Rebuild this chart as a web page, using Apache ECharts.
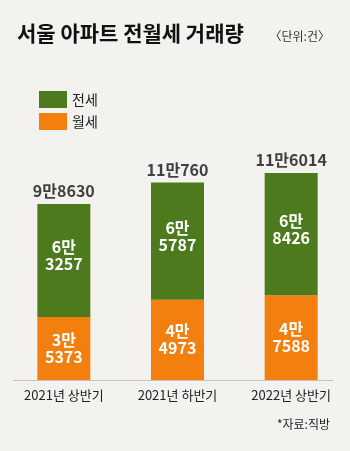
<!DOCTYPE html>
<html>
<head>
<meta charset="utf-8">
<script src="https://cdn.jsdelivr.net/npm/echarts@6/dist/echarts.min.js"></script>
<style>
html,body{margin:0;padding:0;background:#f3f2ee;}
#c{width:350px;height:451px;}
</style>
</head>
<body>
<div id="c"></div>
<script>
const categories = ['2021년 상반기', '2021년 하반기', '2022년 상반기'];
const jeonse = [63257, 65787, 68426];
const wolse = [35373, 44973, 47588];
const totals = [98630, 110760, 116014];
const seriesNames = ['전세', '월세'];

const KR = "'Noto Sans CJK KR', sans-serif";
const NUM = "'Liberation Sans Narrow', 'Noto Sans CJK KR', sans-serif";
function fmt(v, sep) {
  const man = Math.floor(v / 10000);
  const rest = v % 10000;
  return man + '만' + sep + rest;
}

const chart = echarts.init(document.getElementById('c'), null, {renderer: 'canvas'});
chart.setOption({
  backgroundColor: '#f3f2ee',
  animation: false,
  title: [
    {text: '서울 아파트 전월세 거래량', left: 12, top: 18,
     textStyle: {fontFamily: KR, fontSize: 21, fontWeight: 'bold', color: '#111'}},
    {text: '〈단위:건〉', right: 15, top: 25,
     textStyle: {fontFamily: KR, fontSize: 12, fontWeight: 'normal', color: '#333'}},
    {text: '*자료:직방', right: 15, top: 413,
     textStyle: {fontFamily: KR, fontSize: 12, fontWeight: 'normal', color: '#222'}}
  ],
  legend: {
    data: seriesNames,
    orient: 'vertical',
    left: 34, top: 86,
    itemWidth: 28, itemHeight: 17, itemGap: 5,
    icon: 'rect',
    textStyle: {fontFamily: KR, fontSize: 14, color: '#222'}
  },
  grid: {left: 7, right: 2, top: 166, bottom: 71},
  xAxis: {
    type: 'category', data: categories,
    axisLine: {show: false}, axisTick: {show: false},
    axisLabel: {margin: 9, fontFamily: KR, fontSize: 13, color: '#222'}
  },
  yAxis: {type: 'value', min: 0, max: 120000, show: false, splitLine: {show: false}},
  graphic: [{
    type: 'line', shape: {x1: 13, y1: 380.5, x2: 333, y2: 380.5},
    style: {stroke: '#c4c3bf', lineWidth: 1}, z: 10
  }],
  series: [
    {
      name: seriesNames[1], type: 'bar', stack: 's', data: wolse, barWidth: 53,
      itemStyle: {color: '#f27f0e'},
      label: {show: true, position: 'inside', formatter: p => fmt(p.value, '\n'),
              fontFamily: NUM, fontSize: 16, fontWeight: 'bold', color: '#fff', lineHeight: 17}
    },
    {
      name: seriesNames[0], type: 'bar', stack: 's', data: jeonse, barWidth: 53,
      itemStyle: {color: '#4d7a1d'},
      label: {show: true, position: 'inside', offset: [0, -5], formatter: p => fmt(p.value, '\n'),
              fontFamily: NUM, fontSize: 16, fontWeight: 'bold', color: '#fff', lineHeight: 17}
    },
    {
      name: '합계', type: 'scatter', data: totals, symbol: 'circle', symbolSize: 2,
      itemStyle: {color: 'rgba(0,0,0,0)'}, silent: true, z: 20,
      label: {show: true, position: 'top', distance: 4, formatter: p => fmt(p.value, ''),
              fontFamily: NUM, fontSize: 16, fontWeight: 'bold', color: '#111'}
    }
  ]
});
</script>
</body>
</html>
